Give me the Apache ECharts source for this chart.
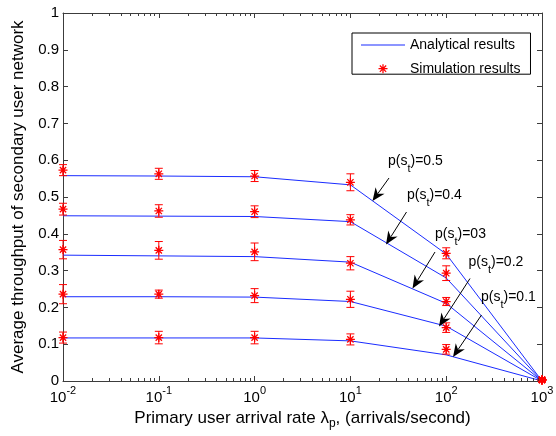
<!DOCTYPE html>
<html><head><meta charset="utf-8">
<script src="https://cdn.jsdelivr.net/npm/echarts@6/dist/echarts.min.js"></script>
<style>html,body{margin:0;padding:0;background:#fff}#c{width:556px;height:436px}</style>
</head><body><div id="c"></div>
<script>
// ---------- data ----------
const xValues = [0.01, 0.1, 1, 10, 100, 1000];
const curveLabels = ['0.5', '0.4', '03', '0.2', '0.1'];

const analytical05 = [0.558, 0.557, 0.555, 0.533, 0.345, 0];
const analytical04 = [0.449, 0.448, 0.447, 0.433, 0.280, 0];
const analytical03 = [0.342, 0.340, 0.338, 0.323, 0.211, 0];
const analytical02 = [0.229, 0.229, 0.228, 0.216, 0.149, 0];
const analytical01 = [0.117, 0.117, 0.117, 0.109, 0.071, 0];

const simulation05 = [0.573, 0.563, 0.557, 0.540, 0.347, 0.003];
const simulation04 = [0.467, 0.462, 0.460, 0.438, 0.293, 0.003];
const simulation03 = [0.357, 0.355, 0.351, 0.320, 0.216, 0.003];
const simulation02 = [0.236, 0.236, 0.232, 0.222, 0.145, 0.003];
const simulation01 = [0.118, 0.118, 0.118, 0.113, 0.086, 0.003];

const error05 = [0.015, 0.015, 0.015, 0.023, 0.015, 0.004];
const error04 = [0.016, 0.017, 0.016, 0.014, 0.020, 0.004];
const error03 = [0.025, 0.024, 0.024, 0.018, 0.011, 0.004];
const error02 = [0.026, 0.011, 0.019, 0.022, 0.013, 0.004];
const error01 = [0.015, 0.017, 0.017, 0.015, 0.013, 0.004];

const xTickExponents = [-2, -1, 0, 1, 2, 3];
const yTicks = [0, 0.1, 0.2, 0.3, 0.4, 0.5, 0.6, 0.7, 0.8, 0.9, 1];

const analyticalSets = [analytical05, analytical04, analytical03, analytical02, analytical01];
const simulationSets = [simulation05, simulation04, simulation03, simulation02, simulation01];
const errorSets = [error05, error04, error03, error02, error01];

// minor tick positions (2..9 within each decade)
const minorTickValues = [];
for (let e = xTickExponents[0]; e < xTickExponents[xTickExponents.length - 1]; e++)
  for (let m = 2; m <= 9; m++) minorTickValues.push(m * Math.pow(10, e));

// ---------- styling / layout ----------
const FONT = "'Liberation Sans', Arial, Helvetica, sans-serif";
const AXIS_COLOR = '#3c3c3c';
const LINE_BLUE = '#1a2cff';
const RED = '#ff0000';
const STAR = 'path://M4.3,0L5.7,0L5.7,10L4.3,10Z M0,4.3L10,4.3L10,5.7L0,5.7Z M1.0,2.0L2.0,1.0L9.0,8.0L8.0,9.0Z M8.0,1.0L9.0,2.0L2.0,9.0L1.0,8.0Z';
const LINE_ICON = 'path://M0,0L44,0L44,1.2L0,1.2Z';

// annotation layout (pixels)
const annotations = [
  { text: curveLabels[0], tx: 388, ty: 164, tail: [389, 178], tip: [372.5, 201] },
  { text: curveLabels[1], tx: 407, ty: 198, tail: [406.5, 212], tip: [386, 244.5] },
  { text: curveLabels[2], tx: 435, ty: 237, tail: [435, 252], tip: [412.5, 288.5] },
  { text: curveLabels[3], tx: 468.5, ty: 265, tail: [470, 278.5], tip: [439, 326.5] },
  { text: curveLabels[4], tx: 481, ty: 300, tail: [481.5, 315], tip: [453, 357] }
];

const chart = echarts.init(document.getElementById('c'), null, { renderer: 'canvas' });

const series = [];
analyticalSets.forEach(function (arr) {
  series.push({
    name: 'Analytical results', type: 'line', symbol: 'none',
    data: xValues.map(function (x, i) { return [x, arr[i]]; }),
    lineStyle: { color: LINE_BLUE, width: 1 }, itemStyle: { color: LINE_BLUE },
    z: 3, animation: false, clip: false
  });
});
simulationSets.forEach(function (arr, k) {
  const err = errorSets[k];
  series.push({
    name: 'errbar' + k, type: 'custom', clip: false, z: 4, animation: false,
    data: xValues.map(function (x, i) { return [x, arr[i], err[i]]; }),
    renderItem: function (params, api) {
      const x = api.value(0), y = api.value(1), e = api.value(2);
      const top = api.coord([x, y + e]);
      const bot = api.coord([x, y - e]);
      const hw = 4;
      const st = { stroke: RED, lineWidth: 1 };
      return { type: 'group', children: [
        { type: 'line', shape: { x1: top[0], y1: top[1], x2: bot[0], y2: bot[1] }, style: st },
        { type: 'line', shape: { x1: top[0] - hw, y1: top[1], x2: top[0] + hw, y2: top[1] }, style: st },
        { type: 'line', shape: { x1: bot[0] - hw, y1: bot[1], x2: bot[0] + hw, y2: bot[1] }, style: st }
      ] };
    }
  });
  series.push({
    name: 'Simulation results', type: 'scatter', symbol: STAR, symbolSize: 9,
    data: xValues.map(function (x, i) { return [x, arr[i]]; }),
    itemStyle: { color: RED, opacity: 1 }, z: 5, animation: false, clip: false
  });
});
// minor ticks for log axis (bottom and top, inside)
series.push({
  name: 'minorTicks', type: 'custom', clip: false, z: 6, animation: false, silent: true,
  data: minorTickValues.map(function (v) { return [v, 0]; }),
  renderItem: function (params, api) {
    const cs = params.coordSys;
    const px = Math.round(api.coord([api.value(0), 0])[0]) + 0.5;
    const yb = cs.y + cs.height, yt = cs.y, L = 3;
    const st = { stroke: AXIS_COLOR, lineWidth: 1 };
    return { type: 'group', children: [
      { type: 'line', shape: { x1: px, y1: yb, x2: px, y2: yb - L }, style: st },
      { type: 'line', shape: { x1: px, y1: yt, x2: px, y2: yt + L }, style: st }
    ] };
  }
});

// graphic annotations
function arrowGraphic(a) {
  const dx = a.tip[0] - a.tail[0], dy = a.tip[1] - a.tail[1];
  const len = Math.sqrt(dx * dx + dy * dy);
  const ux = dx / len, uy = dy / len, nx = -uy, ny = ux;
  const L = 13, W = 5.5, N = 4;
  const bx = a.tip[0] - ux * L, by = a.tip[1] - uy * L;
  const mx = a.tip[0] - ux * (L - N), my = a.tip[1] - uy * (L - N);
  return [
    { type: 'line', shape: { x1: a.tail[0], y1: a.tail[1], x2: mx, y2: my }, style: { stroke: '#000', lineWidth: 1 }, z: 100 },
    { type: 'polygon', shape: { points: [a.tip, [bx + nx * W, by + ny * W], [mx, my], [bx - nx * W, by - ny * W]] }, style: { fill: '#000' }, z: 100 }
  ];
}
const graphics = [];
annotations.forEach(function (a) {
  graphics.push({
    type: 'text', left: a.tx, top: a.ty - 10, z: 100,
    style: {
      text: '{n|p(s}{sub|t}{n|)=' + a.text + '}',
      rich: {
        n: { fontFamily: FONT, fontSize: 14, fill: '#000', lineHeight: 20, verticalAlign: 'top' },
        sub: { fontFamily: FONT, fontSize: 11, fill: '#000', lineHeight: 20, verticalAlign: 'bottom' }
      },
      fill: '#000'
    }
  });
  arrowGraphic(a).forEach(function (g) { graphics.push(g); });
});

const option = {
  animation: false,
  backgroundColor: '#fff',
  textStyle: { fontFamily: FONT },
  grid: { left: 63, right: 14, top: 13, bottom: 55, containLabel: false, outerBoundsMode: 'none' },
  legend: {
    orient: 'vertical', left: 352, top: 33,
    data: [
      { name: 'Analytical results', icon: LINE_ICON },
      { name: 'Simulation results', icon: STAR }
    ],
    itemWidth: 44, itemHeight: 9, itemGap: 9.7,
    padding: [5, 10, -1.5, 9],
    borderColor: '#000', borderWidth: 1, backgroundColor: '#fff',
    textStyle: { fontFamily: FONT, fontSize: 14, color: '#000', lineHeight: 12 },
    selectedMode: false
  },
  xAxis: [
    {
      type: 'log', logBase: 10, min: 0.01, max: 1000, splitNumber: 5,
      name: '{n|Primary user arrival rate λ}{sub|p}{n|, (arrivals/second)}',
      nameLocation: 'middle', nameGap: 26,
      nameTextStyle: {
        rich: {
          n: { fontFamily: FONT, fontSize: 17, color: '#000', lineHeight: 22, verticalAlign: 'middle' },
          sub: { fontFamily: FONT, fontSize: 12, color: '#000', lineHeight: 12, verticalAlign: 'bottom' }
        }
      },
      axisLine: { show: true, onZero: false, lineStyle: { color: AXIS_COLOR, width: 1 } },
      axisTick: { show: true, inside: true, length: 5, lineStyle: { color: AXIS_COLOR } },
      splitLine: { show: false },
      axisLabel: {
        margin: 4,
        formatter: function (v) {
          const e = Math.round(Math.log10(v));
          return '{b|10}{s|' + e + '}';
        },
        rich: {
          b: { fontFamily: FONT, fontSize: 15, color: '#000', lineHeight: 20, verticalAlign: 'bottom' },
          s: { fontFamily: FONT, fontSize: 11, color: '#000', lineHeight: 20, verticalAlign: 'top' }
        }
      }
    },
    {
      type: 'log', logBase: 10, min: 0.01, max: 1000, splitNumber: 5, position: 'top',
      axisLine: { show: true, onZero: false, lineStyle: { color: AXIS_COLOR, width: 1 } },
      axisTick: { show: true, inside: true, length: 5, lineStyle: { color: AXIS_COLOR } },
      axisLabel: { show: false }, splitLine: { show: false }
    }
  ],
  yAxis: [
    {
      type: 'value', min: yTicks[0], max: yTicks[yTicks.length - 1], interval: 0.1,
      name: 'Average throughput of secondary user network',
      nameLocation: 'middle', nameGap: 27,
      nameTextStyle: { fontFamily: FONT, fontSize: 17, color: '#000' },
      axisLine: { show: true, onZero: false, lineStyle: { color: AXIS_COLOR, width: 1 } },
      axisTick: { show: true, inside: true, length: 5, lineStyle: { color: AXIS_COLOR } },
      splitLine: { show: false },
      axisLabel: { margin: 4, fontFamily: FONT, fontSize: 15, color: '#000' }
    },
    {
      type: 'value', min: yTicks[0], max: yTicks[yTicks.length - 1], interval: 0.1, position: 'right',
      axisLine: { show: true, onZero: false, lineStyle: { color: AXIS_COLOR, width: 1 } },
      axisTick: { show: true, inside: true, length: 5, lineStyle: { color: AXIS_COLOR } },
      axisLabel: { show: false }, splitLine: { show: false }
    }
  ],
  series: series,
  graphic: graphics
};
chart.setOption(option);
</script>
</body></html>
